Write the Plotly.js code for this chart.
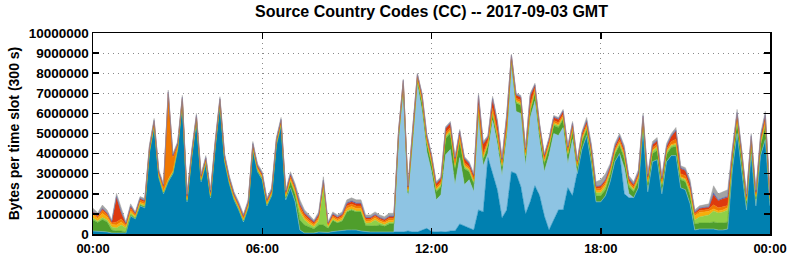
<!DOCTYPE html>
<html><head><meta charset="utf-8">
<script src="https://cdn.plot.ly/plotly-3.0.1.min.js"></script>
<style>html,body{margin:0;padding:0;background:#fff}</style>
</head><body><div id="chart" style="width:792px;height:259px"></div>
<script>
// sampling of the values: one value every 10 minutes, 00:00 .. 24:00
const slotMinutes = 10;
const tickValsHours = [0, 6, 12, 18, 24];
const tickLabels = ['00:00', '06:00', '12:00', '18:00', '00:00'];
const chartTitle = 'Source Country Codes (CC) -- 2017-09-03 GMT';
const yTitle = 'Bytes per time slot (300 s)';

// values in millions of bytes per 300 s slot, stacked bottom to top
const darkBlue = [
 0.15,0.12,0.12,0.1,0.05,0.05,0.05,0.05,0.9,0.75,1.4,1.3,
 4.03,5.35,2.8,2.0,2.6,3.0,4.2,6.5,1.6,3.8,5.6,2.6,3.5,
 1.8,4.3,6.43,3.6,2.5,1.7,1.2,0.6,1.3,4.2,3.1,2.7,1.4,1.9,4.4,5.4,
 1.7,2.3,1.6,0.2,0.05,0.05,0.05,
 0.1,0.1,0.08,0.12,0.15,0.15,0.2,0.2,0.2,0.15,0.12,0.1,0.1,0.1,0.08,0.1,0.1,
 0.1,0.1,0.15,0.1,0.1,0.2,0.28,0.12,0.1,0.12,0.1,0.15,0.15,0.5,0.4,0.3,0.2,1.2,1.1,3.8,
 3.0,2.2,0.8,1.2,3.1,3.0,2.35,1.0,1.6,2.4,1.9,0.9,0.2,0.7,1.2,1.2,2.3,1.9,3.0,4.2,
 4.9,3.5,1.6,1.6,1.9,2.6,3.6,4.0,2.0,1.8,1.8,2.3,5.2,2.1,3.6,3.7,2.0,3.6,3.9,3.9,2.3,2.2,1.5,
 0.2,0.25,0.25,0.25,0.25,0.2,0.2,0.25,
 3.2,5.0,3.2,1.2,4.0,1.4,3.9,4.7,1.4
];
const lightBlue = [
 0,0,0,0,0,0,0,0,0,0,0,0,
 0,0,0,0,0,0,0,0,0,0,0,0,0,
 0,0,0,0,0,0,0,0,0,0,0,0,0,0,0,0,
 0,0,0,0,0,0,0,
 0,0,0,0,0,0,0,0,0,0,0,0,0,0,0,0,0,
 4.55,7.05,1.7,4.3,7.35,5.9,3.82,2.98,1.6,1.83,3.84,4.05,2.3,3.3,2.05,2.4,1.9,4.6,2.3,0.2,
 2.65,2.3,2.1,3.6,5.3,3.1,3.65,2.4,4.2,4.2,2.7,2.2,3.7,4.3,3.7,4.1,1.2,2.8,0,0,
 0,0,0,0,0,0,0,0,1.3,0.2,0,0,0,0,0,0,0,0,0,0,0,0,0,
 0,0,0,0,0,0,0,0,
 0,0,0,0,0,0,0,0,0
];
const darkGreen = [
 0.55,0.45,0.6,0.5,0.15,0.1,0.1,0.05,0.05,0.03,0.05,0.05,
 0.05,0.05,0.05,0.05,0.05,0.05,0.05,0.05,0.05,0.05,0.05,0.05,0.05,
 0.05,0.05,0.05,0.05,0.05,0.05,0.05,0.05,0.05,0.05,0.05,0.05,0.05,0.05,0.05,0.05,
 0.1,0.3,0.35,0.5,0.4,0.3,0.2,
 0.35,0.35,0.2,0.55,0.4,0.5,0.9,1.0,0.9,0.95,0.3,0.3,0.3,0.35,0.3,0.4,0.4,
 0.2,0.2,0.2,0.4,0.2,0.4,0.4,0.4,0.4,0.4,0.8,0.8,0.8,0.8,0.8,0.4,0.4,0.3,0.3,0.4,
 0.3,0.3,0.4,0.3,0.2,0.4,0.4,0.4,0.3,0.4,0.4,0.4,0.4,0.4,0.4,0.4,0.4,0.4,0.28,0.4,
 0.3,0.35,0.3,0.3,0.3,0.35,0.35,0.4,0.45,0.35,0.3,0.35,0.3,0.35,0.4,0.45,0.35,0.35,0.4,0.45,0.4,0.4,0.4,
 0.3,0.3,0.3,0.3,0.35,0.35,0.35,0.35,
 0.5,0.55,0.45,0.35,0.45,0.35,0.5,0.65,0.25
];
const lightGreen = [
 0.1,0.08,0.1,0.1,0.15,0.15,0.3,0.2,0.1,0.05,0.05,0.05,
 0.03,0.03,0.03,0.03,0.03,0.03,0.03,0.03,0.03,0.03,0.03,0.03,0.03,
 0.03,0.03,0.03,0.03,0.03,0.03,0.03,0.03,0.03,0.03,0.03,0.03,0.03,0.03,0.03,0.03,
 0.05,0.05,0.1,0.4,0.25,0.15,0.1,
 0.2,1.9,0.05,0.05,0.05,0.05,0.05,0.05,0.05,0.05,0.12,0.15,0.3,0.1,0.08,0.08,0.08,
 0.05,0.05,0.05,0.08,0.05,0.08,0.08,0.08,0.08,0.08,0.1,0.1,0.1,0.1,0.1,0.08,0.08,0.08,0.08,0.08,
 0.08,0.08,0.08,0.08,0.05,0.08,0.08,0.08,0.08,0.08,0.08,0.08,0.08,0.08,0.08,0.08,0.08,0.08,0.08,0.08,
 0.1,0.15,0.15,0.15,0.15,0.12,0.12,0.12,0.15,0.12,0.1,0.12,0.1,0.12,0.12,0.15,0.12,0.12,0.1,0.1,0.1,0.1,0.15,
 0.2,0.3,0.35,0.4,0.55,0.5,0.55,0.6,
 0.12,0.12,0.1,0.1,0.1,0.1,0.12,0.15,0.08
];
const yellow = [
 0.15,0.12,0.2,0.15,0.12,0.15,0.15,0.08,0.1,0.06,0.08,0.08,
 0.05,0.05,0.05,0.05,0.05,0.05,0.05,0.05,0.05,0.05,0.05,0.05,0.05,
 0.05,0.05,0.05,0.05,0.05,0.05,0.05,0.05,0.05,0.05,0.05,0.05,0.05,0.05,0.05,0.05,
 0.05,0.08,0.08,0.1,0.1,0.1,0.08,
 0.1,0.1,0.07,0.1,0.08,0.1,0.12,0.12,0.12,0.12,0.1,0.1,0.1,0.1,0.1,0.1,0.1,
 0.05,0.05,0.05,0.07,0.05,0.07,0.07,0.07,0.07,0.07,0.08,0.08,0.08,0.08,0.08,0.07,0.07,0.08,0.08,0.07,
 0.08,0.08,0.07,0.08,0.05,0.07,0.07,0.07,0.08,0.07,0.07,0.07,0.07,0.07,0.07,0.07,0.07,0.07,0.05,0.07,
 0.05,0.05,0.1,0.12,0.12,0.05,0.05,0.05,0.05,0.05,0.05,0.05,0.05,0.05,0.05,0.05,0.05,0.05,0.05,0.07,0.05,0.05,0.1,
 0.2,0.22,0.2,0.18,0.1,0.1,0.1,0.1,
 0.05,0.05,0.05,0.04,0.05,0.04,0.05,0.05,0.03
];
const orange = [
 0.1,0.08,0.15,0.12,0.08,0.15,0.15,0.08,0.12,0.08,0.1,0.1,
 0.08,0.08,0.08,0.18,4.24,0.68,0.08,0.08,0.08,0.08,0.08,0.08,0.08,
 0.08,0.08,0.08,0.08,0.08,0.08,0.08,0.08,0.08,0.08,0.08,0.08,0.08,0.08,0.08,0.08,
 0.1,0.12,0.12,0.15,0.12,0.1,0.08,
 0.1,0.1,0.06,0.08,0.08,0.08,0.12,0.12,0.12,0.12,0.08,0.08,0.08,0.08,0.08,0.1,0.1,
 0.08,0.08,0.08,0.1,0.08,0.1,0.1,0.1,0.1,0.1,0.12,0.12,0.12,0.12,0.12,0.1,0.1,0.15,0.15,0.1,
 0.15,0.15,0.1,0.15,0.08,0.1,0.1,0.1,0.15,0.1,0.1,0.1,0.1,0.1,0.1,0.1,0.1,0.1,0.08,0.1,
 0.1,0.1,0.1,0.12,0.12,0.1,0.1,0.12,0.12,0.1,0.1,0.1,0.1,0.1,0.12,0.12,0.1,0.1,0.15,0.2,0.15,0.15,0.15,
 0.08,0.1,0.1,0.1,0.2,0.15,0.15,0.12,
 0.1,0.12,0.1,0.08,0.1,0.08,0.1,0.15,0.07
];
const red = [
 0.05,0.05,0.08,0.06,0.05,1.22,0.3,0.06,0.1,0.05,0.07,0.07,
 0.07,0.07,0.07,0.07,0.07,0.07,0.07,0.07,0.07,0.07,0.07,0.07,0.07,
 0.07,0.07,0.07,0.07,0.07,0.07,0.07,0.07,0.07,0.07,0.07,0.07,0.07,0.07,0.07,0.07,
 0.08,0.1,0.1,0.12,0.1,0.1,0.08,
 0.1,0.1,0.06,0.08,0.07,0.08,0.12,0.12,0.12,0.12,0.08,0.07,0.07,0.07,0.07,0.08,0.08,
 0.1,0.1,0.1,0.15,0.1,0.15,0.15,0.15,0.15,0.15,0.2,0.2,0.2,0.2,0.2,0.15,0.15,0.45,0.45,0.15,
 0.45,0.45,0.15,0.45,0.1,0.15,0.15,0.15,0.45,0.15,0.15,0.15,0.15,0.15,0.15,0.15,0.15,0.15,0.12,0.15,
 0.15,0.15,0.1,0.1,0.1,0.12,0.12,0.15,0.15,0.12,0.1,0.12,0.1,0.12,0.15,0.15,0.12,0.12,0.25,0.4,0.25,0.25,0.2,
 0.08,0.1,0.1,0.1,0.5,0.35,0.4,0.4,
 0.15,0.16,0.15,0.1,0.15,0.1,0.15,0.2,0.07
];
const purple = [
 0.03,0.02,0.03,0.02,0.02,0.05,0.05,0.02,0.03,0.02,0.03,0.03,
 0.03,0.03,0.03,0.03,0.03,0.03,0.03,0.03,0.03,0.03,0.03,0.03,0.03,
 0.03,0.03,0.03,0.03,0.03,0.03,0.03,0.03,0.03,0.03,0.03,0.03,0.03,0.03,0.03,0.03,
 0.03,0.03,0.03,0.05,0.04,0.04,0.03,
 0.04,0.04,0.02,0.03,0.03,0.03,0.04,0.04,0.04,0.04,0.03,0.03,0.03,0.03,0.03,0.03,0.03,
 0.02,0.02,0.02,0.03,0.02,0.03,0.03,0.03,0.03,0.03,0.03,0.03,0.03,0.03,0.03,0.03,0.03,0.04,0.04,0.03,
 0.04,0.04,0.03,0.04,0.02,0.03,0.03,0.03,0.04,0.03,0.03,0.03,0.03,0.03,0.03,0.03,0.03,0.03,0.03,0.03,
 0.04,0.04,0.03,0.03,0.03,0.04,0.04,0.04,0.05,0.04,0.04,0.04,0.04,0.04,0.04,0.05,0.04,0.04,0.04,0.05,0.04,0.04,0.05,
 0.03,0.03,0.03,0.03,0.1,0.05,0.05,0.05,
 0.05,0.05,0.05,0.03,0.05,0.03,0.05,0.05,0.02
];
const gray = [
 0.15,0.14,0.16,0.14,0.08,0.15,0.2,0.06,0.1,0.06,0.08,0.09,
 0.09,0.09,0.09,0.09,0.09,0.09,0.09,0.09,0.09,0.09,0.09,0.09,0.09,
 0.09,0.09,0.09,0.09,0.09,0.09,0.09,0.09,0.09,0.09,0.09,0.09,0.09,0.09,0.09,0.09,
 0.09,0.12,0.12,0.18,0.14,0.11,0.08,
 0.11,0.16,0.06,0.09,0.09,0.11,0.15,0.15,0.15,0.15,0.12,0.12,0.12,0.12,0.12,0.14,0.14,
 0.05,0.05,0.05,0.07,0.05,0.07,0.07,0.07,0.07,0.07,0.07,0.07,0.07,0.07,0.07,0.07,0.07,0.1,0.1,0.07,
 0.1,0.1,0.07,0.1,0.05,0.07,0.07,0.07,0.1,0.07,0.07,0.07,0.07,0.07,0.07,0.07,0.07,0.07,0.06,0.07,
 0.16,0.16,0.22,0.28,0.28,0.12,0.12,0.12,0.13,0.12,0.11,0.12,0.11,0.12,0.12,0.13,0.12,0.12,0.11,0.13,0.11,0.11,0.15,
 0.11,0.1,0.12,0.14,0.35,0.3,0.3,0.33,
 0.13,0.15,0.1,0.1,0.1,0.1,0.13,0.15,0.08
];

const layers = [
  {name: 'CC 1', values: darkBlue,   color: '#0080b0'},
  {name: 'CC 2', values: lightBlue,  color: '#8ec4e3'},
  {name: 'CC 3', values: darkGreen,  color: '#4f9e2c'},
  {name: 'CC 4', values: lightGreen, color: '#8fd048'},
  {name: 'CC 5', values: yellow,     color: '#f7ae0a'},
  {name: 'CC 6', values: orange,     color: '#f07800'},
  {name: 'CC 7', values: red,        color: '#dd3a0e'},
  {name: 'CC 8', values: purple,     color: '#4f62b5'},
  {name: 'CC 9', values: gray,       color: '#a3a3a3'}
];

const hours = darkBlue.map((_, i) => i * slotMinutes / 60);

const traces = layers.map(l => ({
  type: 'scatter', mode: 'lines', name: l.name,
  x: hours, y: l.values.map(v => v * 1e6),
  stackgroup: 'one', fillcolor: l.color,
  line: {width: 0.5, color: l.color, shape: 'linear'},
  hoverinfo: 'skip', showlegend: false
}));

const fontFam = 'Liberation Sans, Arial, sans-serif';
const axisCommon = {
  showline: true, linecolor: '#000', linewidth: 1.5, mirror: 'ticks',
  ticks: 'inside', ticklen: 6, tickwidth: 1.5, tickcolor: '#000',
  showgrid: true, gridcolor: '#8a8a8a', griddash: '1px,4px', gridwidth: 1,
  zeroline: false, fixedrange: true,
  tickfont: {family: fontFam, size: 13.5, color: '#000', weight: 'bold'}
};

const layout = {
  width: 792, height: 259,
  margin: {l: 93, r: 22, t: 33, b: 25, pad: 0},
  paper_bgcolor: '#fff', plot_bgcolor: '#fff',
  title: {text: chartTitle, x: 0.5, xref: 'paper', xanchor: 'center',
          y: 0.955, yref: 'container', yanchor: 'middle',
          font: {family: fontFam, size: 16, color: '#000', weight: 'bold'}},
  xaxis: Object.assign({}, axisCommon, {
    range: [0, 24], tickvals: tickValsHours, ticktext: tickLabels,
    ticklabelstandoff: 2,
    tickfont: {family: fontFam, size: 13, color: '#000', weight: 'bold'}
  }),
  yaxis: Object.assign({}, axisCommon, {
    range: [0, 10000000], dtick: 1000000, tick0: 0, tickformat: 'd',
    title: {text: yTitle, standoff: 6,
            font: {family: fontFam, size: 14, color: '#000', weight: 'bold'}}
  })
};

Plotly.newPlot('chart', traces, layout, {displayModeBar: false, staticPlot: true});
</script>
</body></html>
